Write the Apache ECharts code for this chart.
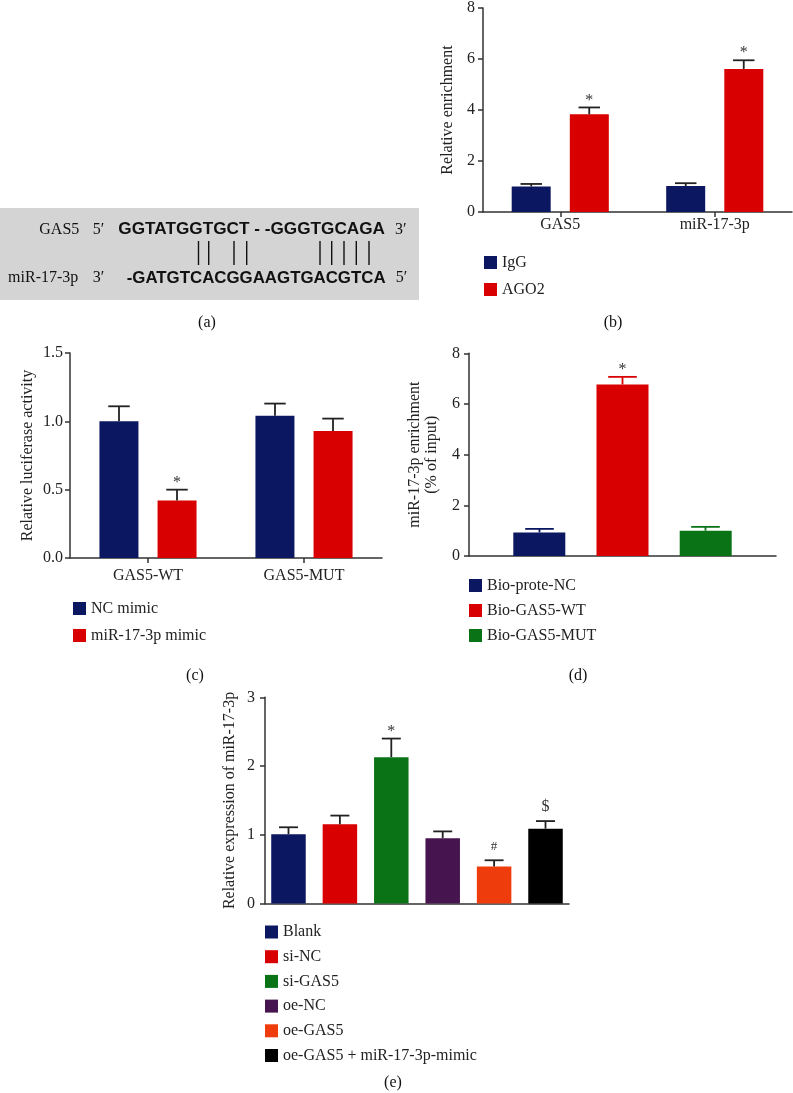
<!DOCTYPE html>
<html><head><meta charset="utf-8">
<script src="https://cdn.jsdelivr.net/npm/echarts@6/dist/echarts.min.js"></script>
<style>html,body{margin:0;padding:0;background:#fff}#c{width:793px;height:1093px}</style>
</head><body><div id="c"></div>
<script>
// ---------- Panel (b) ----------
const bCategories = ['GAS5', 'miR-17-3p'];
const bIgG = [1.00, 1.02];
const bIgGSd = [0.10, 0.11];
const bAGO2 = [3.83, 5.61];
const bAGO2Sd = [0.27, 0.34];
const bAGO2Sig = ['*', '*'];
const bYTicks = [0, 2, 4, 6, 8];
// ---------- Panel (c) ----------
const cCategories = ['GAS5-WT', 'GAS5-MUT'];
const cNC = [1.00, 1.04];
const cNCSd = [0.11, 0.09];
const cMimic = [0.42, 0.93];
const cMimicSd = [0.08, 0.09];
const cMimicSig = ['*', ''];
const cYTicks = ['0.0', '0.5', '1.0', '1.5'];
// ---------- Panel (d) ----------
const dGroups = ['Bio-prote-NC', 'Bio-GAS5-WT', 'Bio-GAS5-MUT'];
const dValues = [0.93, 6.77, 1.00];
const dSd = [0.14, 0.30, 0.15];
const dSig = ['', '*', ''];
const dYTicks = [0, 2, 4, 6, 8];
// ---------- Panel (e) ----------
const eGroups = ['Blank', 'si-NC', 'si-GAS5', 'oe-NC', 'oe-GAS5', 'oe-GAS5 + miR-17-3p-mimic'];
const eValues = [1.01, 1.155, 2.13, 0.95, 0.54, 1.09];
const eSd = [0.10, 0.125, 0.27, 0.10, 0.09, 0.11];
const eSig = ['', '', '*', '', '#', '$'];
const eYTicks = [0, 1, 2, 3];
// ---------- Panel (a) texts ----------
const aRow1 = ['GAS5', '5′', 'GGTATGGTGCT - -GGGTGCAGA', '3′'];
const aRow2 = ['miR-17-3p', '3′', '-GATGTCACGGAAGTGACGTCA', '5′'];

// ---------- styles ----------
const SERIF = '"Liberation Serif", "Times New Roman", serif';
const NAVY = '#0c1762', RED = '#d80000', GREEN = '#0a7316', PURPLE = '#46154f', ORANGE = '#ef3c0c', BLACK = '#000000';
const AX = '#333';
const txt = {fontFamily: SERIF, fontSize: 16, color: '#222'};

function yAxisCfg(gi, ticks, name, nameGap, margin, fmt) {
  const nums = ticks.map(Number);
  return {
    type: 'value', gridIndex: gi, min: nums[0], max: nums[nums.length - 1], interval: nums[1] - nums[0],
    splitLine: {show: false},
    axisLine: {show: true, lineStyle: {color: AX, width: 1.5}},
    axisTick: {show: true, length: 5, lineStyle: {color: AX, width: 1.5}},
    axisLabel: Object.assign({margin: margin, formatter: fmt || (v => String(v))}, txt),
    name: name, nameLocation: 'middle', nameGap: nameGap,
    nameTextStyle: Object.assign({lineHeight: 17}, txt)
  };
}
function xAxisCfg(gi, cats, showLabels, margin) {
  return {
    type: 'category', gridIndex: gi, data: cats,
    axisLine: {show: true, lineStyle: {color: AX, width: 1.5}},
    axisTick: {show: showLabels, alignWithLabel: true, length: 5, lineStyle: {color: AX, width: 1.5}},
    axisLabel: Object.assign({show: showLabels, margin: margin}, txt),
    splitLine: {show: false}
  };
}
function barSeries(name, ai, data, color, width, gap) {
  return {name, type: 'bar', xAxisIndex: ai, yAxisIndex: ai, data, barWidth: width, barGap: gap,
    itemStyle: {color}, z: 2, silent: true};
}
// items: [cat, value, sd, slot]; sigs and colors per item
function errSeries(ai, items, sigs, colors, nSlots, barW, gapW) {
  return {
    type: 'custom', xAxisIndex: ai, yAxisIndex: ai, z: 5, silent: true, data: items,
    renderItem(params, api) {
      const ci = api.value(0), v = api.value(1), sd = api.value(2), slot = api.value(3);
      const b = api.coord([ci, v]);
      const t = api.coord([ci, v + sd]);
      const x = b[0] + (slot - (nSlots - 1) / 2) * (barW + gapW);
      const cap = barW * 0.55;
      const col = colors[params.dataIndex];
      const ch = [
        {type: 'line', shape: {x1: x, y1: b[1], x2: x, y2: t[1]}, style: {stroke: col, lineWidth: 1.8}},
        {type: 'line', shape: {x1: x - cap / 2, y1: t[1], x2: x + cap / 2, y2: t[1]}, style: {stroke: col, lineWidth: 1.8}}
      ];
      const s = sigs[params.dataIndex];
      if (s) ch.push({type: 'text', style: {text: s, x: x, y: t[1] - (s === '*' ? 7 : 14),
        align: 'center', verticalAlign: 'middle', textAlign: 'center', textVerticalAlign: 'middle',
        font: (s === '#' ? '13px ' : '16px ') + SERIF, fill: '#333'}});
      return {type: 'group', children: ch};
    }
  };
}

const legendCommon = {orient: 'vertical', icon: 'rect', itemWidth: 13, itemHeight: 13, padding: 0,
  selectedMode: false, itemGap: 11, textStyle: Object.assign({lineHeight: 16}, txt)};

// panel (a) graphics
function t(text, x, y, align, font) {
  return {type: 'text', style: {text, x, y, font: font || ('16px ' + SERIF), fill: '#111',
    align, verticalAlign: 'middle', textAlign: align, textVerticalAlign: 'middle'}};
}
const SEQ1 = 'bold 17.2px "Liberation Sans", Arial, sans-serif';
const SEQ2 = 'bold 16.85px "Liberation Sans", Arial, sans-serif';
const pairX = [198.5, 208.7, 234, 246.7, 320, 331.7, 344, 356.3, 369];
const graphics = [
  {type: 'rect', shape: {x: 0, y: 208, width: 419, height: 92}, style: {fill: '#d4d4d4'}},
  t(aRow1[0], 79.3, 230, 'right'), t(aRow1[1], 92.7, 230, 'left'), t(aRow1[2], 118.3, 229.5, 'left', SEQ1), t(aRow1[3], 395, 230, 'left'),
  t(aRow2[0], 78.3, 278, 'right'), t(aRow2[1], 92.7, 278, 'left'), t(aRow2[2], 126.7, 278, 'left', SEQ2), t(aRow2[3], 395.7, 278, 'left')
].concat(pairX.map(x => ({type: 'line', shape: {x1: x, y1: 241, x2: x, y2: 265}, style: {stroke: '#111', lineWidth: 1.4}})))
 .concat([t('(a)', 207, 323, 'center'), t('(b)', 613, 323, 'center'), t('(c)', 195, 676, 'center'),
          t('(d)', 578, 676, 'center'), t('(e)', 393, 1083, 'center')]);

const dColors = [NAVY, RED, GREEN];
const eColors = [NAVY, RED, GREEN, PURPLE, ORANGE, BLACK];

const option = {
  backgroundColor: '#fff',
  animation: false,
  grid: [
    {left: 483, top: 7, width: 309, height: 205},
    {left: 70, top: 353, width: 312, height: 205},
    {left: 469, top: 353.3, width: 307, height: 202.7},
    {left: 265, top: 697.3, width: 304, height: 206.3}
  ],
  xAxis: [
    xAxisCfg(0, bCategories, true, 5),
    xAxisCfg(1, cCategories, true, 10),
    xAxisCfg(2, [''], false, 8),
    xAxisCfg(3, [''], false, 8)
  ],
  yAxis: [
    yAxisCfg(0, bYTicks, 'Relative enrichment', 27, 8),
    yAxisCfg(1, cYTicks, 'Relative luciferase activity', 34, 7, v => v.toFixed(1)),
    yAxisCfg(2, dYTicks, 'miR-17-3p enrichment\n(% of input)', 29, 9),
    yAxisCfg(3, eYTicks, 'Relative expression of miR-17-3p', 27, 10)
  ],
  legend: [
    Object.assign({}, legendCommon, {data: ['IgG', 'AGO2'], left: 484, top: 254.5, itemGap: 11, itemTextGap: 10}),
    Object.assign({}, legendCommon, {data: ['NC mimic', 'miR-17-3p mimic'], left: 73, top: 600.5, itemGap: 11, itemTextGap: 10}),
    Object.assign({}, legendCommon, {data: dGroups, left: 469, top: 577.5, itemGap: 9, itemTextGap: 10}),
    Object.assign({}, legendCommon, {data: eGroups, left: 265, top: 924, itemGap: 8.7, itemTextGap: 11})
  ],
  series: [
    barSeries('IgG', 0, bIgG, NAVY, 39, '49%'),
    barSeries('AGO2', 0, bAGO2, RED, 39, '49%'),
    errSeries(0, bIgG.map((v, i) => [i, v, bIgGSd[i], 0]).concat(bAGO2.map((v, i) => [i, v, bAGO2Sd[i], 1])),
      bIgG.map(() => '').concat(bAGO2Sig), bIgG.map(() => '#222').concat(bAGO2.map(() => '#222')), 2, 39, 19),
    barSeries('NC mimic', 1, cNC, NAVY, 39, '49%'),
    barSeries('miR-17-3p mimic', 1, cMimic, RED, 39, '49%'),
    errSeries(1, cNC.map((v, i) => [i, v, cNCSd[i], 0]).concat(cMimic.map((v, i) => [i, v, cMimicSd[i], 1])),
      cNC.map(() => '').concat(cMimicSig), cNC.map(() => '#222').concat(cMimic.map(() => '#222')), 2, 39, 19)
  ].concat(dGroups.map((g, i) => barSeries(g, 2, [dValues[i]], dColors[i], 52, '60%')))
   .concat([errSeries(2, dValues.map((v, i) => [0, v, dSd[i], i]), dSig, dColors, 3, 52, 31)])
   .concat(eGroups.map((g, i) => barSeries(g, 3, [eValues[i]], eColors[i], 34.5, '49%')))
   .concat([errSeries(3, eValues.map((v, i) => [0, v, eSd[i], i]), eSig, eValues.map(() => '#222'), 6, 34.5, 16.9)]),
  graphic: graphics
};
const chart = echarts.init(document.getElementById('c'), null, {renderer: 'canvas'});
chart.setOption(option);
</script></body></html>
